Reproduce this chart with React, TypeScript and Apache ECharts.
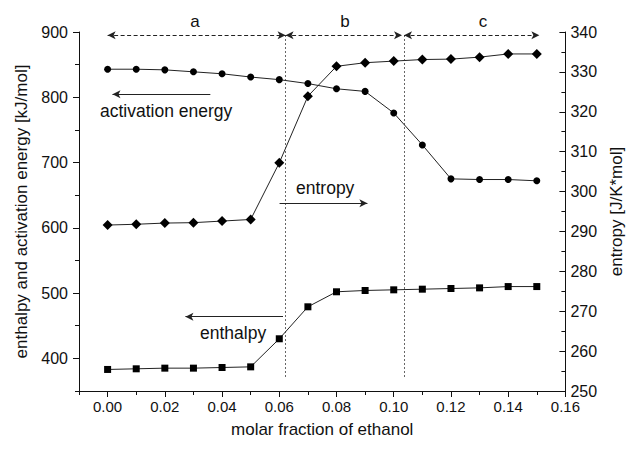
import React, { useEffect, useRef } from "react";
import * as echarts from "echarts";

const xValues = [0.0, 0.01, 0.02, 0.03, 0.04, 0.05, 0.06, 0.07, 0.08, 0.09, 0.1, 0.11, 0.12, 0.13, 0.14, 0.15];
const enthalpy = [383, 384, 385, 385, 386, 387, 430, 479, 502, 504, 505, 506, 507, 508, 510, 510];
const activationEnergy = [843, 843, 842, 839, 836, 831, 827, 821, 813, 809, 776, 727, 675, 674, 674, 672];
const entropy = [291.6, 291.8, 292.1, 292.2, 292.6, 293.0, 307.2, 323.9, 331.4, 332.3, 332.7, 333.1, 333.2, 333.7, 334.5, 334.5];

const xMajorTicks = [0.0, 0.02, 0.04, 0.06, 0.08, 0.1, 0.12, 0.14, 0.16];
const xMinorTicks = [-0.01, 0.01, 0.03, 0.05, 0.07, 0.09, 0.11, 0.13, 0.15];
const leftMajorTicks = [400, 500, 600, 700, 800, 900];
const leftMinorTicks = [350, 450, 550, 650, 750, 850];

// region boundaries and annotation anchors (data coordinates)
const boundaries = [0.0622, 0.1036];
const regionArrows = [
  [0.0, 0.0622],
  [0.0622, 0.1029],
  [0.1036, 0.1509],
];
const regionArrowY = 895;
const boundaryYRange = [895, 371];

const FONT = "Liberation Sans, Arial, sans-serif";
const INK = "#111";

export default function App() {
  const ref = useRef<HTMLDivElement>(null);
  useEffect(() => {
    if (!ref.current) return;
    const chart = echarts.init(ref.current, undefined, { renderer: "svg" });
    const lineColor = "#222";
    const markLines: any[] = [];
    boundaries.forEach((b) => {
      markLines.push([
        { coord: [b, boundaryYRange[0]], symbol: "none", lineStyle: { type: [1.5, 2.5], color: "#333", width: 1 } },
        { coord: [b, boundaryYRange[1]], symbol: "none" },
      ]);
    });
    regionArrows.forEach(([a, b]) => {
      markLines.push([
        { coord: [a, regionArrowY], symbol: "arrow", lineStyle: { type: [4, 2.5], color: "#222", width: 1 } },
        { coord: [b, regionArrowY], symbol: "arrow" },
      ]);
    });
    // annotation arrows
    markLines.push([
      { coord: [0.0359, 804.6], symbol: "none", lineStyle: { type: "solid", color: "#222", width: 1 } },
      { coord: [0.0017, 804.6], symbol: "arrow" },
    ]);
    markLines.push([
      { coord: [0.0601, 637.8], symbol: "none", lineStyle: { type: "solid", color: "#222", width: 1 } },
      { coord: [0.0908, 637.8], symbol: "arrow" },
    ]);
    markLines.push([
      { coord: [0.0613, 463.8], symbol: "none", lineStyle: { type: "solid", color: "#222", width: 1 } },
      { coord: [0.0272, 463.8], symbol: "arrow" },
    ]);

    const axisLine = { show: true, onZero: false, lineStyle: { color: INK, width: 1 } };
    const xLabelStyle = { color: INK, fontSize: 15, fontFamily: FONT };
    const yLabelStyle = { color: INK, fontSize: 16, fontFamily: FONT };
    const nameStyle = { color: INK, fontSize: 17, fontFamily: FONT };

    chart.setOption({
      animation: false,
      textStyle: { fontFamily: FONT },
      grid: { left: 79, right: 63, top: 32, bottom: 58, containLabel: false },
      xAxis: [
        {
          type: "value",
          min: -0.01,
          max: 0.16,
          position: "bottom",
          axisLine,
          axisTick: { show: true, inside: false, length: 6, customValues: xMajorTicks, lineStyle: { color: INK } },
          axisLabel: { ...xLabelStyle, margin: 8, customValues: xMajorTicks, formatter: (v: number) => v.toFixed(2) },
          splitLine: { show: false },
          name: "molar fraction of ethanol",
          nameLocation: "middle",
          nameGap: 30,
          nameTextStyle: nameStyle,
        },
        {
          type: "value",
          min: -0.01,
          max: 0.16,
          position: "bottom",
          axisLine: { show: false, onZero: false },
          axisTick: { show: true, inside: false, length: 4, customValues: xMinorTicks, lineStyle: { color: INK } },
          axisLabel: { show: false },
          splitLine: { show: false },
        },
      ],
      yAxis: [
        {
          type: "value",
          min: 350,
          max: 900,
          position: "left",
          axisLine,
          axisTick: { show: true, inside: false, length: 6, customValues: leftMajorTicks, lineStyle: { color: INK } },
          axisLabel: { ...yLabelStyle, margin: 11, customValues: leftMajorTicks },
          splitLine: { show: false },
          name: "enthalpy and activation energy [kJ/mol]",
          nameLocation: "middle",
          nameGap: 48,
          nameTextStyle: nameStyle,
        },
        {
          type: "value",
          min: 250,
          max: 340,
          interval: 10,
          position: "right",
          axisLine,
          axisTick: { show: true, inside: true, length: 6, lineStyle: { color: INK } },
          minorTick: { show: true, splitNumber: 2, length: 4, lineStyle: { color: INK } },
          axisLabel: { ...yLabelStyle, margin: 5 },
          splitLine: { show: false },
          minorSplitLine: { show: false },
          name: "entropy [J/K*mol]",
          nameLocation: "middle",
          nameGap: 39,
          nameTextStyle: nameStyle,
        },
        {
          type: "value",
          min: 350,
          max: 900,
          position: "left",
          axisLine: { show: false, onZero: false },
          axisTick: { show: true, inside: false, length: 4, customValues: leftMinorTicks, lineStyle: { color: INK } },
          axisLabel: { show: false },
          splitLine: { show: false },
        },
      ],
      series: [
        {
          name: "enthalpy",
          type: "line",
          xAxisIndex: 0,
          yAxisIndex: 0,
          data: xValues.map((x, i) => [x, enthalpy[i]]),
          symbol: "rect",
          symbolSize: 7,
          showAllSymbol: true,
          lineStyle: { color: lineColor, width: 1 },
          itemStyle: { color: "#000" },
          z: 3,
        },
        {
          name: "activation energy",
          type: "line",
          xAxisIndex: 0,
          yAxisIndex: 0,
          data: xValues.map((x, i) => [x, activationEnergy[i]]),
          symbol: "circle",
          symbolSize: 7,
          showAllSymbol: true,
          lineStyle: { color: lineColor, width: 1 },
          itemStyle: { color: "#000" },
          z: 3,
          markLine: {
            silent: true,
            animation: false,
            symbol: ["none", "none"],
            symbolSize: [6, 8],
            label: { show: false },
            emphasis: { disabled: true },
            data: markLines,
          },
        },
        {
          name: "entropy",
          type: "line",
          xAxisIndex: 0,
          yAxisIndex: 1,
          data: xValues.map((x, i) => [x, entropy[i]]),
          symbol: "diamond",
          symbolSize: 10,
          showAllSymbol: true,
          lineStyle: { color: lineColor, width: 1 },
          itemStyle: { color: "#000" },
          z: 3,
        },
      ],
      graphic: [
        { type: "text", x: 195, y: 21, style: { text: "a", fill: INK, font: `17px ${FONT}`, align: "center", verticalAlign: "middle" } },
        { type: "text", x: 345, y: 21, style: { text: "b", fill: INK, font: `17px ${FONT}`, align: "center", verticalAlign: "middle" } },
        { type: "text", x: 483, y: 21, style: { text: "c", fill: INK, font: `17px ${FONT}`, align: "center", verticalAlign: "middle" } },
        { type: "text", x: 100, y: 111, style: { text: "activation energy", fill: INK, font: `17.5px ${FONT}`, align: "left", verticalAlign: "middle" } },
        { type: "text", x: 296, y: 188, style: { text: "entropy", fill: INK, font: `17.5px ${FONT}`, align: "left", verticalAlign: "middle" } },
        { type: "text", x: 200, y: 333, style: { text: "enthalpy", fill: INK, font: `17.5px ${FONT}`, align: "left", verticalAlign: "middle" } },
      ],
    });
    return () => chart.dispose();
  }, []);
  return (
    <div
      ref={ref}
      style={{ position: "fixed", left: 0, top: 0, width: 633, height: 449, background: "#fff" }}
    />
  );
}
